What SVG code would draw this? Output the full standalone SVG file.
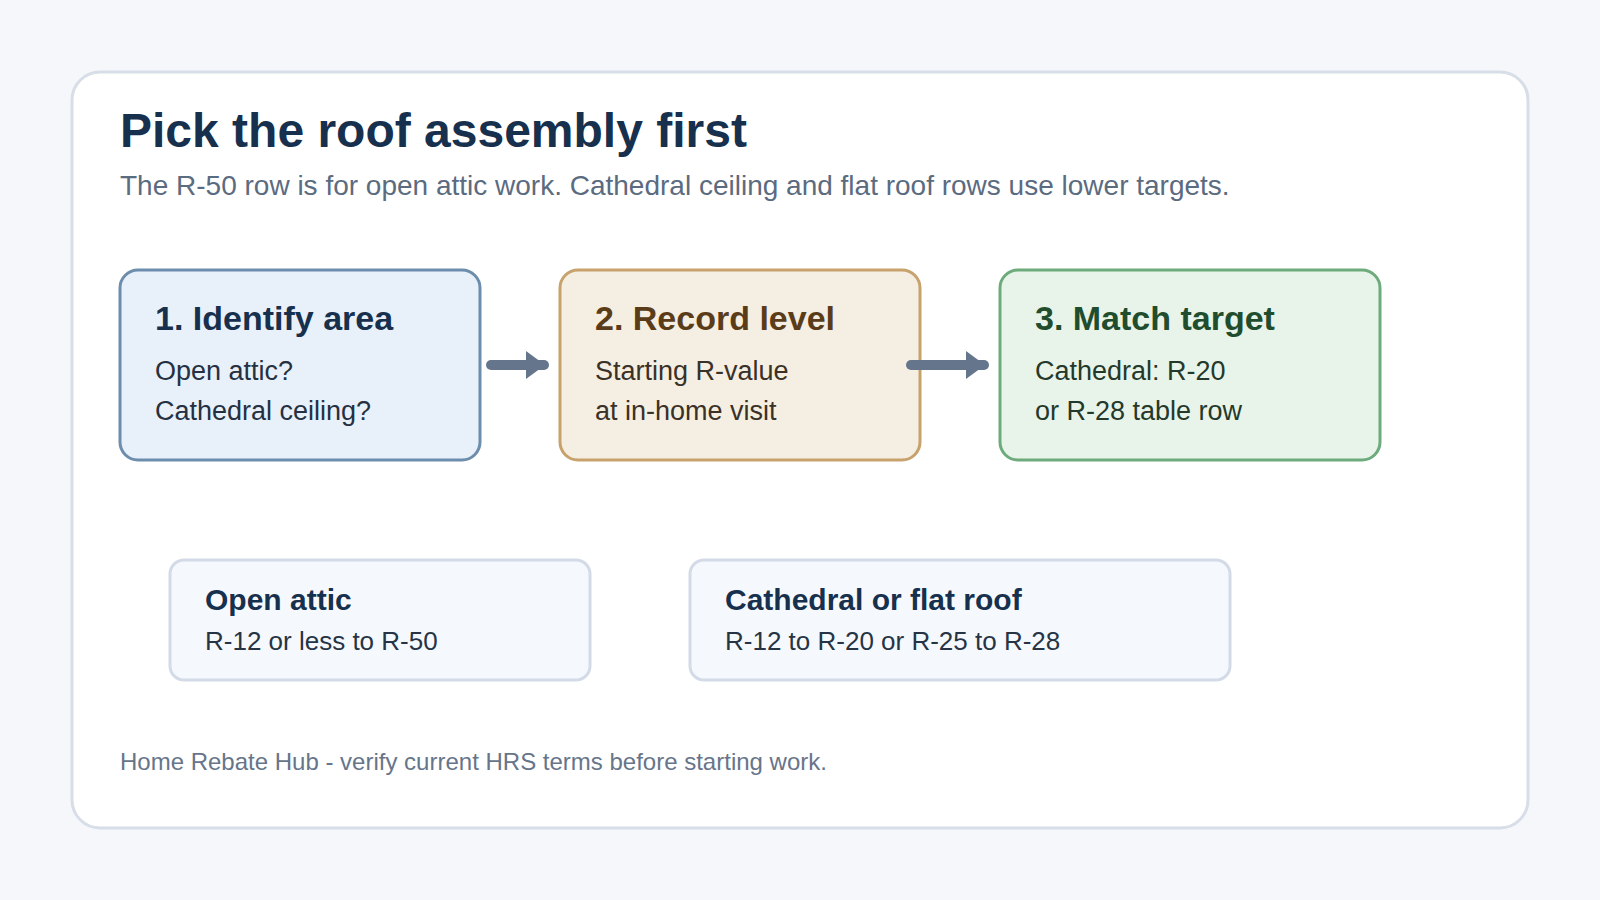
<svg xmlns="http://www.w3.org/2000/svg" width="1600" height="900" viewBox="0 0 1600 900">
<defs>
<style>
.t{font-family:"Liberation Sans",Arial,sans-serif}
.h1{font-size:48px;font-weight:700;fill:#17304d}
.sub{font-size:28px;fill:#5b6b80}
.nt{font-size:34px;font-weight:700}
.nb{font-size:27px}
.bt{font-size:30px;font-weight:700;fill:#17304d}
.bb{font-size:26px;fill:#263445}
.foot{font-size:24px;fill:#66758a}
.conn{stroke:#64758c;stroke-width:10;stroke-linecap:round;fill:none}
</style>
<marker id="ah" markerUnits="userSpaceOnUse" markerWidth="20" markerHeight="28" refX="18" refY="14" orient="auto">
<path d="M0,0 L19,14 L0,28 z" fill="#64758c"/>
</marker>
</defs>
<rect width="1600" height="900" fill="#f5f7fa"/>
<rect x="72" y="72" width="1456" height="756" rx="28" fill="#ffffff" stroke="#d7dee7" stroke-width="3"/>
<text class="t h1" x="120" y="147">Pick the roof assembly first</text>
<text class="t sub" x="120" y="195">The R-50 row is for open attic work. Cathedral ceiling and flat roof rows use lower targets.</text>

<g id="node-identify">
<rect x="120" y="270" width="360" height="190" rx="18" fill="#e8f0f9" stroke="#6d8dad" stroke-width="3"/>
<text class="t nt" x="155" y="330" fill="#17304d">1. Identify area</text>
<text class="t nb" x="155" y="380" fill="#253142">Open attic?</text>
<text class="t nb" x="155" y="420" fill="#253142">Cathedral ceiling?</text>
</g>
<g id="node-record">
<rect x="560" y="270" width="360" height="190" rx="18" fill="#f5eee3" stroke="#c7a26c" stroke-width="3"/>
<text class="t nt" x="595" y="330" fill="#5a3c18">2. Record level</text>
<text class="t nb" x="595" y="380" fill="#3a3127">Starting R-value</text>
<text class="t nb" x="595" y="420" fill="#3a3127">at in-home visit</text>
</g>
<g id="node-match">
<rect x="1000" y="270" width="380" height="190" rx="18" fill="#e8f4e9" stroke="#6dab7d" stroke-width="3"/>
<text class="t nt" x="1035" y="330" fill="#1f4d2e">3. Match target</text>
<text class="t nb" x="1035" y="380" fill="#25392b">Cathedral: R-20</text>
<text class="t nb" x="1035" y="420" fill="#25392b">or R-28 table row</text>
</g>

<g id="connectors">
<line class="conn" x1="491" y1="365" x2="544" y2="365" marker-end="url(#ah)"/>
<line class="conn" x1="911" y1="365" x2="984" y2="365" marker-end="url(#ah)"/>
</g>

<g id="box-open-attic">
<rect x="170" y="560" width="420" height="120" rx="14" fill="#f5f9fd" stroke="#d4dbe8" stroke-width="3"/>
<text class="t bt" x="205" y="610">Open attic</text>
<text class="t bb" x="205" y="650">R-12 or less to R-50</text>
</g>
<g id="box-cathedral">
<rect x="690" y="560" width="540" height="120" rx="14" fill="#f5f9fd" stroke="#d4dbe8" stroke-width="3"/>
<text class="t bt" x="725" y="610">Cathedral or flat roof</text>
<text class="t bb" x="725" y="650">R-12 to R-20 or R-25 to R-28</text>
</g>

<text class="t foot" x="120" y="770">Home Rebate Hub - verify current HRS terms before starting work.</text>
</svg>
